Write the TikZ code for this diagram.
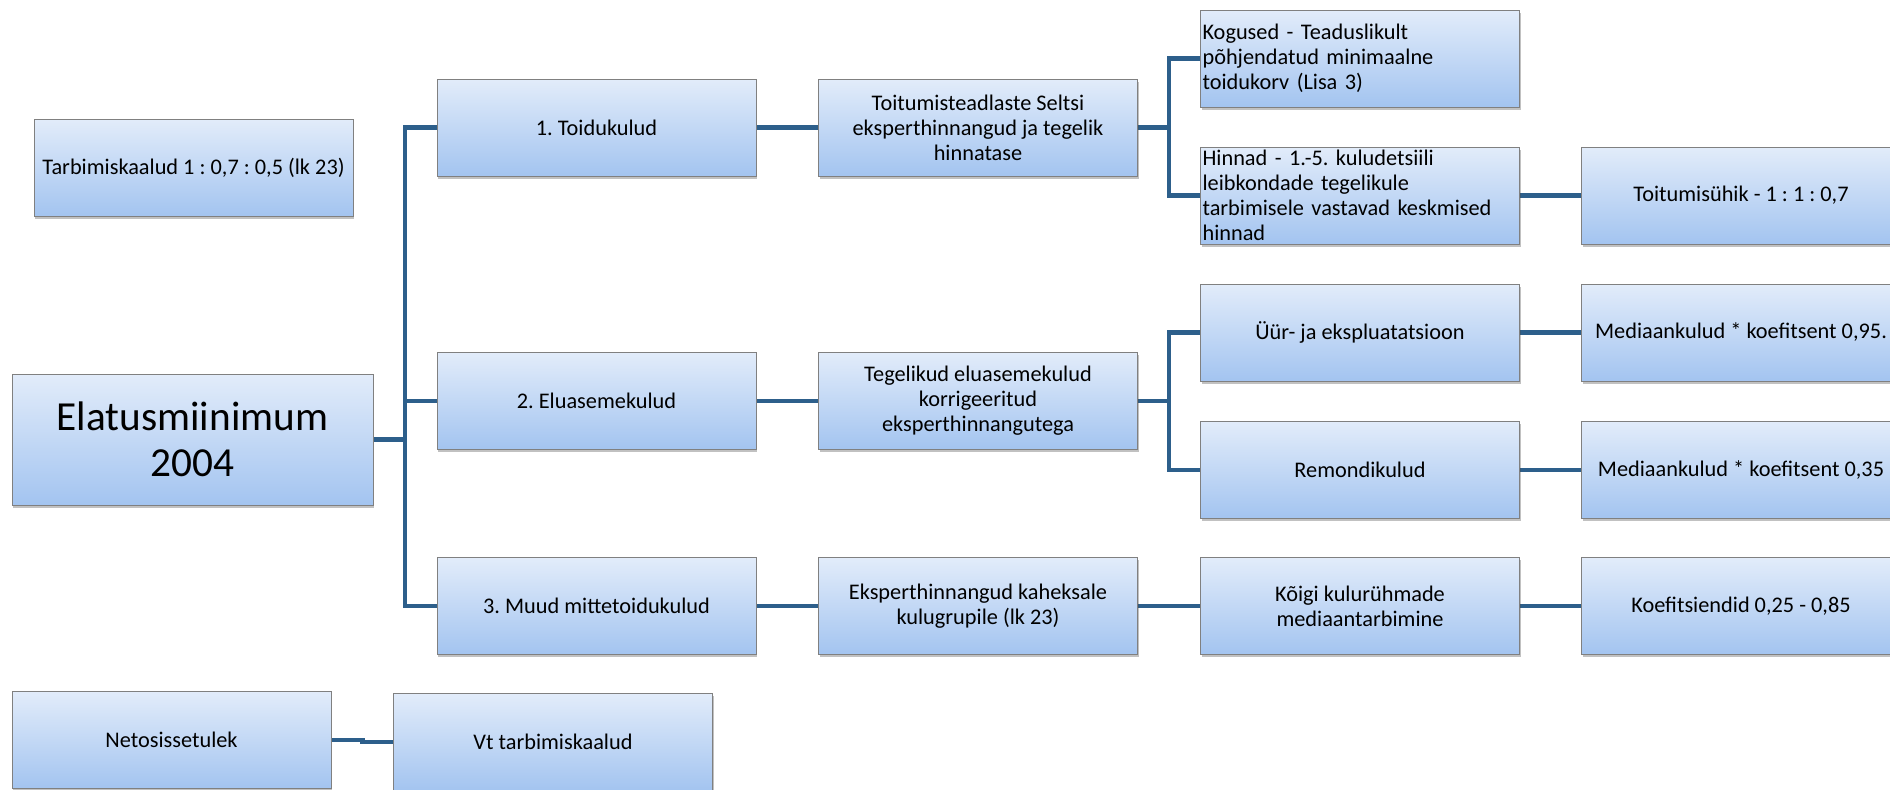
\documentclass[tikz,border=0pt]{standalone}
\usepackage{fontspec}
\setmainfont{Carlito}
\frenchspacing
\usetikzlibrary{shadows,backgrounds}
\definecolor{boxtop}{RGB}{226,236,250}
\definecolor{boxbot}{RGB}{163,196,240}
\definecolor{boxline}{RGB}{128,128,128}
\definecolor{conn}{RGB}{45,95,139}
\tikzset{
  box/.style={draw=boxline, line width=0.5pt, top color=boxtop, bottom color=boxbot,
    minimum width=6.38cm, minimum height=1.94cm, inner sep=1pt, align=center,
    font=\fontsize{12.7}{14.3}\selectfont,
    drop shadow={shadow xshift=0.6pt, shadow yshift=-1.6pt, opacity=0.35, fill=black!70}},
  lbox/.style={box, align=left, text width=6.3cm, inner xsep=0.6pt},
  bigbox/.style={box, minimum width=7.22cm, minimum height=2.62cm, font=\fontsize{23.5}{26}\selectfont},
  wire/.style={draw=conn, line width=2.8pt}
}
\begin{document}
\begin{tikzpicture}[x=0.02cm, y=-0.02cm]
\useasboundingbox (0,0) rectangle (1890,790);
\clip (0,0) rectangle (1890,790);

\node[box] (tarb) at (193.5,167.5) {Tarbimiskaalud 1 : 0,7 : 0,5 (lk 23)};
\node[bigbox] (elat) at (192.5,439.5) {Elatusmiinimum\\2004};

\node[box] (l1a) at (596.5,127.5) {1. Toidukulud};
\node[box] (l1b) at (596.5,401) {2. Eluasemekulud};
\node[box] (l1c) at (596.5,606) {3. Muud mittetoidukulud};

\node[box] (l2a) at (978,127.5) {Toitumisteadlaste Seltsi\\eksperthinnangud ja tegelik\\hinnatase};
\node[box] (l2b) at (978,401) {Tegelikud eluasemekulud\\korrigeeritud\\eksperthinnangutega};
\node[box] (l2c) at (978,606) {Eksperthinnangud kaheksale\\kulugrupile (lk 23)};

\node[lbox] (l3a) at (1360,58.5) {Kogused - Teaduslikult\\põhjendatud minimaalne\\toidukorv (Lisa 3)};
\node[lbox] (l3b) at (1360,195.5) {Hinnad - 1.-5. kuludetsiili\\leibkondade tegelikule\\tarbimisele vastavad keskmised\\hinnad};
\node[box] (l3c) at (1360,332.5) {Üür- ja ekspluatatsioon};
\node[box] (l3d) at (1360,470) {Remondikulud};
\node[box] (l3e) at (1360,606) {Kõigi kulurühmade\\mediaantarbimine};

\node[box] (l4b) at (1741,195.5) {Toitumisühik - 1 : 1 : 0,7};
\node[box] (l4c) at (1741,332.5) {Mediaankulud * koefitsent 0,95.};
\node[box] (l4d) at (1741,470) {Mediaankulud * koefitsent 0,35};
\node[box] (l4e) at (1741,606) {Koefitsiendid 0,25 - 0,85};

\node[box] (neto) at (171.5,740) {Netosissetulek};
\node[box] (vt) at (553,742) {Vt tarbimiskaalud};

\coordinate (trunk) at (405,0);
\coordinate (bra) at (1169,0);
\coordinate (brb) at (1169,0);

\begin{scope}[on background layer]
\draw[wire] (elat.east) -- (elat.east -| trunk);
\draw[wire] (l1a.west) -| (trunk |- l1c.west) -- (l1c.west);
\draw[wire] (l1b.west) -- (l1b.west -| trunk);
\draw[wire] (l1a.east) -- (l2a.west);
\draw[wire] (l1b.east) -- (l2b.west);
\draw[wire] (l1c.east) -- (l2c.west);
\draw[wire] (l3a.west) -| (bra |- l3b.west) -- (l3b.west);
\draw[wire] (l2a.east) -- (l2a.east -| bra);
\draw[wire] (l3c.west) -| (brb |- l3d.west) -- (l3d.west);
\draw[wire] (l2b.east) -- (l2b.east -| brb);
\draw[wire] (l2c.east) -- (l3e.west);
\draw[wire] (l3b.east) -- (l4b.west);
\draw[wire] (l3c.east) -- (l4c.west);
\draw[wire] (l3d.east) -- (l4d.west);
\draw[wire] (l3e.east) -- (l4e.west);
\draw[wire] (neto.east) -- ++(31,0) |- (vt.west);
\end{scope}
\end{tikzpicture}
\end{document}
